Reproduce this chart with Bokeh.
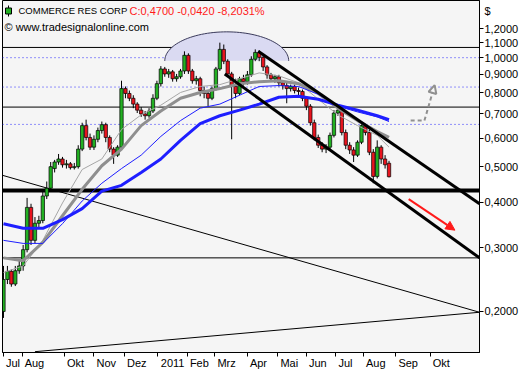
import math
from bokeh.plotting import figure
from bokeh.models import (Range1d, FixedTicker, CustomJSTickFormatter, Span, Label,
                          ColumnDataSource, Arrow, NormalHead, LogAxis, LinearAxis)
from bokeh.embed import file_html
from bokeh.resources import INLINE

# ---------------- data ----------------
OPEN = [0.200, 0.245, 0.258, 0.238, 0.259, 0.267, 0.296, 0.387, 0.314, 0.350,
        0.356, 0.416, 0.437, 0.495, 0.516, 0.526, 0.507, 0.510, 0.498, 0.501,
        0.560, 0.650, 0.603, 0.567, 0.596, 0.630, 0.654, 0.603, 0.560, 0.539,
        0.567, 0.822, 0.797, 0.773, 0.745, 0.717, 0.700, 0.692, 0.713, 0.773,
        0.848, 0.931, 0.902, 0.914, 0.875, 0.886, 0.919, 1.015, 0.919, 0.864,
        0.875, 0.812, 0.797, 0.773, 0.822, 0.931, 1.054, 0.978, 0.902, 0.833,
        0.797, 0.875, 0.859, 0.897, 0.990, 1.034, 1.002, 0.943, 0.897, 0.875,
        0.886, 0.853, 0.838, 0.822, 0.833, 0.812, 0.807, 0.773, 0.735, 0.662,
        0.603, 0.574, 0.560, 0.567, 0.611, 0.704, 0.717, 0.622, 0.574, 0.557,
        0.539, 0.585, 0.650, 0.622, 0.549, 0.471, 0.567, 0.526, 0.512]
HIGH = [0.267, 0.267, 0.261, 0.267, 0.278, 0.305, 0.411, 0.396, 0.364, 0.367,
        0.429, 0.456, 0.516, 0.523, 0.543, 0.533, 0.523, 0.516, 0.513, 0.574,
        0.662, 0.675, 0.618, 0.611, 0.642, 0.667, 0.662, 0.611, 0.567, 0.574,
        0.864, 0.833, 0.812, 0.788, 0.754, 0.731, 0.713, 0.726, 0.793, 0.864,
        0.948, 0.943, 0.931, 0.925, 0.902, 0.931, 1.041, 1.028, 0.931, 0.891,
        0.886, 0.833, 0.812, 0.833, 0.943, 1.100, 1.087, 0.990, 0.914, 0.875,
        0.886, 0.897, 0.919, 1.009, 1.054, 1.047, 1.015, 0.954, 0.908, 0.897,
        0.897, 0.864, 0.853, 0.843, 0.843, 0.827, 0.817, 0.783, 0.745, 0.675,
        0.614, 0.585, 0.578, 0.622, 0.717, 0.726, 0.722, 0.634, 0.585, 0.567,
        0.592, 0.662, 0.658, 0.634, 0.560, 0.592, 0.574, 0.539, 0.520]
LOW = [0.192, 0.238, 0.234, 0.235, 0.254, 0.259, 0.291, 0.305, 0.308, 0.339,
       0.350, 0.408, 0.429, 0.483, 0.507, 0.498, 0.495, 0.492, 0.492, 0.495,
       0.553, 0.592, 0.557, 0.557, 0.585, 0.618, 0.585, 0.549, 0.510, 0.533,
       0.560, 0.773, 0.759, 0.726, 0.704, 0.687, 0.675, 0.683, 0.704, 0.764,
       0.833, 0.886, 0.880, 0.859, 0.859, 0.875, 0.902, 0.902, 0.848, 0.843,
       0.783, 0.773, 0.735, 0.764, 0.812, 0.919, 0.960, 0.886, 0.596, 0.773,
       0.788, 0.838, 0.843, 0.886, 0.978, 0.978, 0.919, 0.875, 0.859, 0.853,
       0.833, 0.817, 0.749, 0.807, 0.797, 0.788, 0.759, 0.717, 0.650, 0.592,
       0.564, 0.549, 0.546, 0.560, 0.603, 0.692, 0.611, 0.560, 0.543, 0.516,
       0.533, 0.578, 0.611, 0.539, 0.451, 0.465, 0.510, 0.495, 0.468]
CLOSE = [0.245, 0.258, 0.238, 0.259, 0.267, 0.296, 0.387, 0.314, 0.350, 0.356,
         0.416, 0.437, 0.501, 0.516, 0.526, 0.507, 0.510, 0.498, 0.501, 0.560,
         0.650, 0.603, 0.567, 0.596, 0.630, 0.654, 0.603, 0.560, 0.539, 0.567,
         0.822, 0.797, 0.773, 0.745, 0.717, 0.700, 0.692, 0.713, 0.773, 0.848,
         0.931, 0.902, 0.914, 0.875, 0.886, 0.919, 1.015, 0.919, 0.864, 0.875,
         0.812, 0.797, 0.773, 0.822, 0.931, 1.054, 0.978, 0.902, 0.833, 0.797,
         0.875, 0.859, 0.897, 0.990, 1.034, 1.002, 0.943, 0.897, 0.875, 0.886,
         0.853, 0.838, 0.822, 0.833, 0.812, 0.807, 0.773, 0.735, 0.662, 0.603,
         0.574, 0.560, 0.567, 0.611, 0.704, 0.717, 0.622, 0.574, 0.557, 0.539,
         0.585, 0.650, 0.622, 0.549, 0.471, 0.567, 0.526, 0.507, 0.470]

MA_X = [0, 5, 10, 15, 20, 25, 30, 35, 40, 45, 50, 55, 60, 65, 70, 75, 80, 85, 90, 95, 98]
MA_GRAY_FAST = [0.256, 0.267, 0.314, 0.398, 0.492, 0.526, 0.634, 0.696, 0.740, 0.802, 0.833,
                0.843, 0.875, 0.908, 0.891, 0.853, 0.768, 0.696, 0.650, 0.611, 0.567]
MA_GRAY_SLOW = [0.281, 0.276, 0.310, 0.367, 0.434, 0.504, 0.560, 0.650, 0.713, 0.773, 0.802,
                0.822, 0.848, 0.859, 0.864, 0.848, 0.797, 0.726, 0.671, 0.626, 0.603]
MA_BLUE_FAST = [0.314, 0.308, 0.308, 0.349, 0.403, 0.451, 0.495, 0.539, 0.607, 0.671, 0.726,
                0.745, 0.788, 0.833, 0.838, 0.833, 0.793, 0.735, 0.709, 0.687, 0.667]
MA_BLUE_SLOW = [0.349, 0.339, 0.339, 0.358, 0.384, 0.429, 0.445, 0.483, 0.526, 0.592, 0.658,
                0.692, 0.717, 0.745, 0.778, 0.783, 0.768, 0.740, 0.717, 0.692, 0.675]

MONTH_POS = [0, 4.75, 15.5, 23, 30.75, 39.25, 46.75, 53.75, 62, 69.75, 77, 84.5, 91.5, 99.75, 108.5]
MONTH_LBL = ["Jul", "Aug", "Okt", "Nov", "Dez", "2011", "Feb", "Mrz", "Apr", "Mai",
             "Jun", "Jul", "Aug", "Sep", "Okt"]
Y_TICKS = [0.2, 0.3, 0.4, 0.5, 0.6, 0.7, 0.8, 0.9, 1.0, 1.1, 1.2]

LEVELS_THIN = [1.067, 0.731, 0.281]
LEVEL_STRONG = 0.431
LEVELS_DOTTED = [1.0, 0.83, 0.655]

TREND_DOWN_THIN = ([-0.75, 121], [0.476, 0.199])
TREND_UP_THIN = ([8, 121], [0.155, 0.199])
CHANNEL_UPPER = ([64.75, 121], [1.041, 0.396])
CHANNEL_LOWER = ([56.25, 121], [0.902, 0.281])
TARGET_DOWN = ([103, 114.75], [0.408, 0.335])
TARGET_UP = ([103.5, 107, 109.6], [0.671, 0.671, 0.84])

# ---------------- figure ----------------
FONT = "Liberation Sans"
W, H = 523, 372
X0, X1 = -0.25, 121.0
Y0, Y1 = 0.1542, 1.437
FW = W - 2 - 44
FH = H - 20
PX_PER_BAR = FW / (X1 - X0)


def xb(px):
    return X0 + px / PX_PER_BAR


def yp(px):
    return Y1 * math.exp(-px / FH * math.log(Y1 / Y0))


p = figure(width=W, height=H, y_axis_type="log", y_axis_location="right",
           x_range=Range1d(X0, X1), y_range=Range1d(Y0, Y1),
           output_backend="svg", toolbar_location=None,
           min_border_left=2, min_border_top=0, min_border_bottom=20, min_border_right=44)
p.background_fill_color = "#f5f5f5"
p.border_fill_color = "white"
p.outline_line_color = "black"
p.outline_line_width = 1
p.xgrid.visible = False
p.ygrid.visible = False

BLANK = CustomJSTickFormatter(code="return '';")

# right side: first axis draws only the tick marks
ya = p.yaxis[0]
ya.ticker = FixedTicker(ticks=Y_TICKS, minor_ticks=[])
ya.formatter = BLANK
ya.major_tick_in = 0
ya.major_tick_out = 4
ya.major_tick_line_color = "black"
ya.minor_tick_line_color = None
ya.axis_line_color = "black"
ya.major_label_standoff = 0

# second right axis carries the labels and the "$" unit at the top
DOLLAR_AT = yp(10)
ylab = LogAxis(ticker=FixedTicker(ticks=Y_TICKS + [DOLLAR_AT], minor_ticks=[]),
               formatter=CustomJSTickFormatter(
                   code="return tick > 1.25 ? '$' : tick.toFixed(4).replace('.', ',');"))
ylab.major_tick_in = 0
ylab.major_tick_out = 0
ylab.minor_tick_line_color = None
ylab.axis_line_color = None
ylab.major_label_standoff = 1
ylab.major_label_text_font = FONT
ylab.major_label_text_font_size = "11px"
ylab.major_label_text_color = "black"
p.add_layout(ylab, "right")

# bottom: tick marks at month starts, labels written just right of each tick
xa = p.xaxis[0]
xa.ticker = FixedTicker(ticks=MONTH_POS, minor_ticks=[])
xa.formatter = BLANK
xa.major_tick_in = 0
xa.major_tick_out = 4
xa.major_tick_line_color = "black"
xa.minor_tick_line_color = None
xa.axis_line_color = "black"
xa.major_label_standoff = 0

CHAR_W = {"J": 500, "u": 556, "l": 222, "A": 667, "g": 556, "O": 778, "k": 500, "t": 278,
          "N": 722, "o": 556, "v": 500, "D": 722, "e": 556, "z": 500, "2": 556, "0": 556,
          "1": 556, "F": 611, "b": 556, "M": 833, "r": 333, "p": 556, "a": 556, "i": 222,
          "n": 556, "S": 667}
FS = 11.0


def label_center(pos, lbl, gap=2.5):
    w = sum(CHAR_W.get(ch, 556) for ch in lbl) / 1000 * FS
    return pos + (gap + w / 2) / PX_PER_BAR


LBL_AT = [label_center(pos, lbl) for pos, lbl in zip(MONTH_POS, MONTH_LBL)]
xlab = LinearAxis(ticker=FixedTicker(ticks=LBL_AT, minor_ticks=[]))
xlab.major_label_overrides = {c: lbl for c, lbl in zip(LBL_AT, MONTH_LBL)}
xlab.major_tick_in = 0
xlab.major_tick_out = 0
xlab.minor_tick_line_color = None
xlab.axis_line_color = None
xlab.major_label_standoff = 0
xlab.major_label_text_font = FONT
xlab.major_label_text_font_size = "11px"
xlab.major_label_text_color = "black"
p.add_layout(xlab, "below")

# ellipse highlight (top)
cx, a = 56.75, 15.75
base, top = 0.98, 1.178
lb, bb = math.log(base), math.log(top / base)
ts = [math.pi * k / 60 for k in range(61)]
ex = [cx + a * math.cos(t) for t in ts]
ey = [math.exp(lb + bb * math.sin(t)) for t in ts]
p.patch(ex, ey, fill_color="#dadaf2", line_color=None)
p.line(ex, ey, line_color="#3a3a5a", line_width=1)

# horizontal levels
for lv in LEVELS_DOTTED:
    p.add_layout(Span(location=lv, dimension="width", line_color="#2a2aff",
                      line_width=1, line_dash="1 3", level="underlay"))
for lv in LEVELS_THIN:
    p.add_layout(Span(location=lv, dimension="width", line_color="black",
                      line_width=1, level="underlay"))
p.add_layout(Span(location=LEVEL_STRONG, dimension="width", line_color="black",
                  line_width=4, level="underlay"))

# thin trend lines
p.line(*TREND_DOWN_THIN, line_color="black", line_width=1)
p.line(*TREND_UP_THIN, line_color="black", line_width=1)

# candles
idx = list(range(len(CLOSE)))
src = ColumnDataSource(dict(
    x=idx, o=OPEN, h=HIGH, l=LOW, c=CLOSE,
    top=[max(o, c) for o, c in zip(OPEN, CLOSE)],
    bot=[min(o, c) for o, c in zip(OPEN, CLOSE)],
    col=["#22b022" if c >= o else "#e8141e" for o, c in zip(OPEN, CLOSE)]))
p.segment(x0="x", y0="l", x1="x", y1="h", source=src, line_color="black", line_width=1)
p.vbar(x="x", top="top", bottom="bot", width=0.85, fill_color="col",
       line_color="black", line_width=0.7, source=src)

# moving averages
p.line(MA_X, MA_GRAY_FAST, line_color="#a6a6a6", line_width=1)
p.line(MA_X, MA_GRAY_SLOW, line_color="#8f8f8f", line_width=3)
p.line(MA_X, MA_BLUE_FAST, line_color="#1e1eff", line_width=1)
p.line(MA_X, MA_BLUE_SLOW, line_color="#1e1eff", line_width=3)

# channel
p.line(*CHANNEL_UPPER, line_color="black", line_width=3)
p.line(*CHANNEL_LOWER, line_color="black", line_width=3)

# target arrows
p.add_layout(Arrow(x_start=TARGET_DOWN[0][0], y_start=TARGET_DOWN[1][0],
                   x_end=TARGET_DOWN[0][1], y_end=TARGET_DOWN[1][1],
                   line_color="#ff1a1a", line_width=2,
                   end=NormalHead(size=9, fill_color="#ff1a1a", line_color="#ff1a1a")))
p.line(TARGET_UP[0][:2], TARGET_UP[1][:2], line_color="#909090", line_width=2, line_dash="4 3")
p.add_layout(Arrow(x_start=TARGET_UP[0][1], y_start=TARGET_UP[1][1],
                   x_end=TARGET_UP[0][2], y_end=TARGET_UP[1][2],
                   line_color="#909090", line_width=2, line_dash="4 3",
                   end=NormalHead(size=8, fill_color="#f5f5f5", line_color="#909090", line_width=2)))

# header: legend icon + texts
p.segment(x0=[xb(6)], y0=[yp(5)], x1=[xb(6)], y1=[yp(16)], line_color="black", line_width=1)
p.scatter([xb(6)], [yp(10.5)], marker="square", size=6, fill_color="#22b022", line_color="black")

p.add_layout(Label(x=16, y=Y1, x_units="screen", y_units="data", y_offset=-4,
                   text="COMMERCE RES CORP", text_baseline="top", text_font=FONT,
                   text_font_size="9.5px", text_color="black"))
p.add_layout(Label(x=127, y=Y1, x_units="screen", y_units="data", y_offset=-4,
                   text="C:0,4700 -0,0420 -8,2031%", text_baseline="top", text_font=FONT,
                   text_font_size="11px", text_color="#ff1a1a"))
p.add_layout(Label(x=2, y=Y1, x_units="screen", y_units="data", y_offset=-20,
                   text="\u00a9 www.tradesignalonline.com", text_baseline="top", text_font=FONT,
                   text_font_size="11px", text_color="black"))

open("out.html", "w").write(file_html(p, INLINE))
